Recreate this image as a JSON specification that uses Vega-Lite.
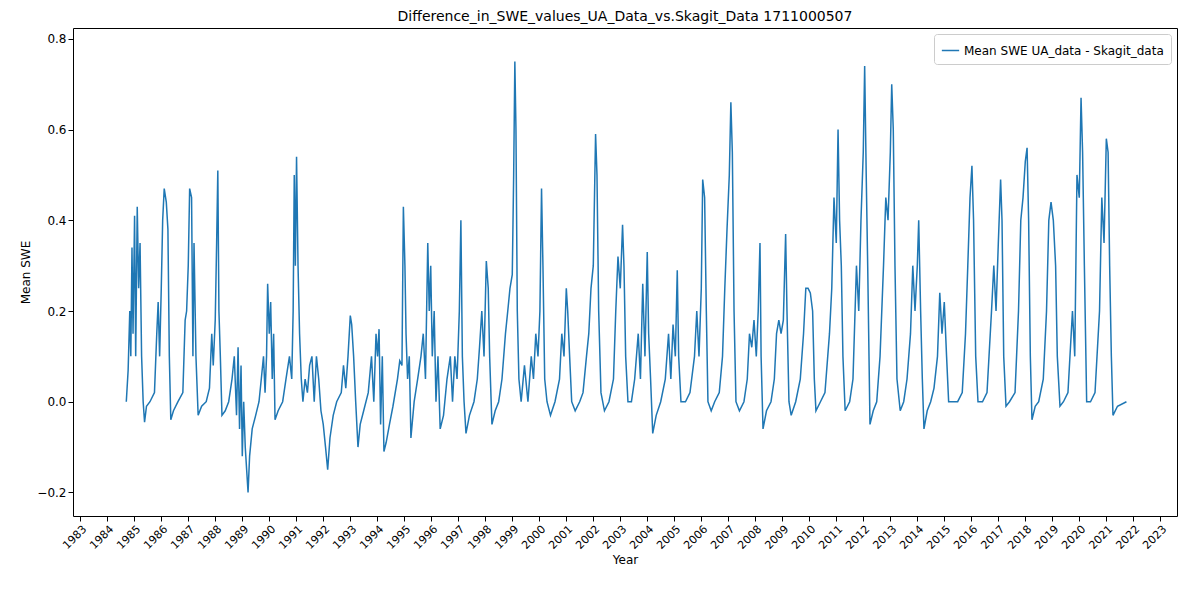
{
  "$schema": "https://vega.github.io/schema/vega-lite/v6.json",
  "width": 1104,
  "height": 488,
  "autosize": "none",
  "padding": {"left": 73, "top": 28, "right": 10, "bottom": 73},
  "background": "white",
  "title": {"text": "Difference_in_SWE_values_UA_Data_vs.Skagit_Data 1711000507", "font": "DejaVu Sans", "fontSize": 14, "fontWeight": "normal", "offset": 4, "color": "black"},
  "data": {"values": [
    {"date":"1984-09-15","v":0.0},{"date":"1984-10-10","v":0.07},{"date":"1984-11-01","v":0.2},{"date":"1984-11-15","v":0.1},{"date":"1984-12-01","v":0.34},{"date":"1984-12-15","v":0.15},{"date":"1985-01-05","v":0.41},{"date":"1985-01-20","v":0.1},{"date":"1985-02-10","v":0.43},{"date":"1985-03-01","v":0.25},{"date":"1985-03-20","v":0.35},{"date":"1985-04-10","v":0.1},{"date":"1985-05-01","v":0.0},{"date":"1985-05-20","v":-0.045},{"date":"1985-06-15","v":-0.01},{"date":"1985-08-01","v":0.0},
    {"date":"1985-10-01","v":0.02},{"date":"1985-11-01","v":0.15},{"date":"1985-11-20","v":0.22},{"date":"1985-12-10","v":0.1},{"date":"1986-01-01","v":0.25},{"date":"1986-01-20","v":0.4},{"date":"1986-02-10","v":0.47},{"date":"1986-03-10","v":0.44},{"date":"1986-04-01","v":0.38},{"date":"1986-04-20","v":0.1},{"date":"1986-05-10","v":-0.04},{"date":"1986-06-15","v":-0.02},{"date":"1986-08-15","v":0.0},
    {"date":"1986-10-20","v":0.02},{"date":"1986-11-20","v":0.18},{"date":"1986-12-10","v":0.2},{"date":"1987-01-01","v":0.3},{"date":"1987-01-20","v":0.47},{"date":"1987-02-15","v":0.45},{"date":"1987-03-05","v":0.1},{"date":"1987-03-20","v":0.35},{"date":"1987-04-15","v":0.1},{"date":"1987-05-15","v":-0.03},{"date":"1987-07-01","v":-0.01},{"date":"1987-09-01","v":0.0},
    {"date":"1987-10-15","v":0.03},{"date":"1987-11-15","v":0.15},{"date":"1987-12-05","v":0.08},{"date":"1988-01-01","v":0.18},{"date":"1988-01-20","v":0.35},{"date":"1988-02-05","v":0.51},{"date":"1988-02-20","v":0.2},{"date":"1988-03-10","v":0.1},{"date":"1988-04-01","v":-0.03},{"date":"1988-05-15","v":-0.02},{"date":"1988-07-01","v":0.0},{"date":"1988-08-15","v":0.05},
    {"date":"1988-09-15","v":0.1},{"date":"1988-10-15","v":-0.03},{"date":"1988-11-05","v":0.12},{"date":"1988-11-25","v":-0.06},{"date":"1988-12-15","v":0.08},{"date":"1989-01-01","v":-0.12},{"date":"1989-01-20","v":0.0},{"date":"1989-02-10","v":-0.1},{"date":"1989-03-01","v":-0.15},{"date":"1989-03-20","v":-0.2},{"date":"1989-04-10","v":-0.12},{"date":"1989-05-15","v":-0.06},{"date":"1989-07-01","v":-0.03},{"date":"1989-08-15","v":0.0},
    {"date":"1989-09-15","v":0.05},{"date":"1989-10-15","v":0.1},{"date":"1989-11-05","v":0.02},{"date":"1989-11-25","v":0.1},{"date":"1989-12-10","v":0.26},{"date":"1990-01-01","v":0.15},{"date":"1990-01-20","v":0.22},{"date":"1990-02-10","v":0.05},{"date":"1990-03-01","v":0.15},{"date":"1990-03-20","v":-0.04},{"date":"1990-05-01","v":-0.02},{"date":"1990-07-01","v":0.0},
    {"date":"1990-08-15","v":0.05},{"date":"1990-10-01","v":0.1},{"date":"1990-11-01","v":0.05},{"date":"1990-11-20","v":0.2},{"date":"1990-12-05","v":0.5},{"date":"1990-12-20","v":0.3},{"date":"1991-01-05","v":0.54},{"date":"1991-01-25","v":0.3},{"date":"1991-02-15","v":0.15},{"date":"1991-03-10","v":0.05},{"date":"1991-04-01","v":0.0},{"date":"1991-05-01","v":0.05},{"date":"1991-06-01","v":0.02},
    {"date":"1991-07-01","v":0.08},{"date":"1991-08-01","v":0.1},{"date":"1991-09-01","v":0.0},{"date":"1991-10-01","v":0.1},{"date":"1991-11-01","v":0.05},{"date":"1991-12-01","v":-0.02},{"date":"1992-01-01","v":-0.05},{"date":"1992-02-01","v":-0.1},{"date":"1992-03-01","v":-0.15},{"date":"1992-04-01","v":-0.08},{"date":"1992-05-15","v":-0.03},{"date":"1992-07-01","v":0.0},
    {"date":"1992-09-01","v":0.02},{"date":"1992-10-01","v":0.08},{"date":"1992-11-01","v":0.03},{"date":"1992-12-01","v":0.1},{"date":"1993-01-01","v":0.19},{"date":"1993-01-20","v":0.17},{"date":"1993-02-15","v":0.1},{"date":"1993-03-15","v":0.0},{"date":"1993-04-15","v":-0.1},{"date":"1993-05-15","v":-0.05},{"date":"1993-07-01","v":-0.02},
    {"date":"1993-09-01","v":0.02},{"date":"1993-10-15","v":0.1},{"date":"1993-11-15","v":0.0},{"date":"1993-12-15","v":0.15},{"date":"1994-01-05","v":0.1},{"date":"1994-01-25","v":0.16},{"date":"1994-02-15","v":-0.05},{"date":"1994-03-10","v":0.1},{"date":"1994-04-01","v":-0.11},{"date":"1994-05-01","v":-0.09},{"date":"1994-06-15","v":-0.05},{"date":"1994-08-01","v":-0.01},
    {"date":"1994-10-01","v":0.05},{"date":"1994-11-01","v":0.09},{"date":"1994-12-01","v":0.08},{"date":"1994-12-20","v":0.43},{"date":"1995-01-10","v":0.3},{"date":"1995-01-25","v":0.15},{"date":"1995-02-15","v":0.05},{"date":"1995-03-10","v":0.1},{"date":"1995-04-01","v":-0.08},{"date":"1995-05-15","v":0.0},{"date":"1995-07-01","v":0.05},
    {"date":"1995-08-15","v":0.1},{"date":"1995-09-15","v":0.15},{"date":"1995-10-15","v":0.05},{"date":"1995-11-15","v":0.35},{"date":"1995-12-05","v":0.2},{"date":"1995-12-25","v":0.3},{"date":"1996-01-15","v":0.1},{"date":"1996-02-10","v":0.2},{"date":"1996-03-05","v":0.0},{"date":"1996-04-01","v":0.1},{"date":"1996-05-01","v":-0.06},{"date":"1996-06-15","v":-0.03},{"date":"1996-08-01","v":0.05},
    {"date":"1996-09-15","v":0.1},{"date":"1996-10-15","v":0.0},{"date":"1996-11-15","v":0.1},{"date":"1996-12-15","v":0.05},{"date":"1997-01-15","v":0.2},{"date":"1997-02-05","v":0.4},{"date":"1997-02-25","v":0.1},{"date":"1997-03-20","v":0.0},{"date":"1997-04-15","v":-0.07},{"date":"1997-06-01","v":-0.03},{"date":"1997-08-01","v":0.0},
    {"date":"1997-09-15","v":0.05},{"date":"1997-10-15","v":0.12},{"date":"1997-11-15","v":0.2},{"date":"1997-12-15","v":0.1},{"date":"1998-01-15","v":0.31},{"date":"1998-02-10","v":0.25},{"date":"1998-03-01","v":0.1},{"date":"1998-04-01","v":-0.05},{"date":"1998-05-15","v":-0.02},{"date":"1998-07-01","v":0.0},
    {"date":"1998-08-15","v":0.05},{"date":"1998-10-01","v":0.15},{"date":"1998-11-01","v":0.2},{"date":"1998-12-01","v":0.25},{"date":"1999-01-01","v":0.28},{"date":"1999-01-20","v":0.5},{"date":"1999-02-05","v":0.75},{"date":"1999-02-20","v":0.6},{"date":"1999-03-10","v":0.2},{"date":"1999-04-01","v":0.05},{"date":"1999-05-01","v":0.0},{"date":"1999-06-15","v":0.08},
    {"date":"1999-08-01","v":0.0},{"date":"1999-09-15","v":0.1},{"date":"1999-10-15","v":0.05},{"date":"1999-11-15","v":0.15},{"date":"1999-12-15","v":0.1},{"date":"2000-01-10","v":0.2},{"date":"2000-02-01","v":0.47},{"date":"2000-02-20","v":0.3},{"date":"2000-03-15","v":0.05},{"date":"2000-04-15","v":0.0},{"date":"2000-06-01","v":-0.03},{"date":"2000-08-01","v":0.0},
    {"date":"2000-10-01","v":0.05},{"date":"2000-11-01","v":0.15},{"date":"2000-12-01","v":0.1},{"date":"2001-01-01","v":0.25},{"date":"2001-01-20","v":0.2},{"date":"2001-02-15","v":0.1},{"date":"2001-03-15","v":0.0},{"date":"2001-05-01","v":-0.02},{"date":"2001-07-01","v":0.0},
    {"date":"2001-08-15","v":0.02},{"date":"2001-10-01","v":0.1},{"date":"2001-11-01","v":0.15},{"date":"2001-12-01","v":0.25},{"date":"2002-01-01","v":0.3},{"date":"2002-02-01","v":0.59},{"date":"2002-02-20","v":0.5},{"date":"2002-03-15","v":0.2},{"date":"2002-04-15","v":0.02},{"date":"2002-06-01","v":-0.02},{"date":"2002-08-01","v":0.0},
    {"date":"2002-10-01","v":0.05},{"date":"2002-11-01","v":0.2},{"date":"2002-12-01","v":0.32},{"date":"2003-01-01","v":0.25},{"date":"2003-02-01","v":0.39},{"date":"2003-02-20","v":0.3},{"date":"2003-03-15","v":0.1},{"date":"2003-04-15","v":0.0},{"date":"2003-06-01","v":0.0},
    {"date":"2003-07-15","v":0.05},{"date":"2003-09-01","v":0.15},{"date":"2003-10-01","v":0.05},{"date":"2003-11-01","v":0.26},{"date":"2003-12-01","v":0.1},{"date":"2004-01-01","v":0.33},{"date":"2004-01-20","v":0.15},{"date":"2004-02-15","v":0.05},{"date":"2004-03-15","v":-0.07},{"date":"2004-05-01","v":-0.03},{"date":"2004-07-01","v":0.0},
    {"date":"2004-09-01","v":0.05},{"date":"2004-10-15","v":0.15},{"date":"2004-11-15","v":0.05},{"date":"2004-12-15","v":0.17},{"date":"2005-01-15","v":0.1},{"date":"2005-02-10","v":0.29},{"date":"2005-03-01","v":0.1},{"date":"2005-04-01","v":0.0},{"date":"2005-06-01","v":0.0},
    {"date":"2005-08-01","v":0.02},{"date":"2005-10-01","v":0.1},{"date":"2005-11-01","v":0.2},{"date":"2005-12-01","v":0.1},{"date":"2006-01-01","v":0.25},{"date":"2006-01-20","v":0.49},{"date":"2006-02-15","v":0.45},{"date":"2006-03-10","v":0.2},{"date":"2006-04-01","v":0.0},{"date":"2006-05-15","v":-0.02},{"date":"2006-07-01","v":0.0},
    {"date":"2006-09-01","v":0.02},{"date":"2006-10-15","v":0.1},{"date":"2006-11-15","v":0.25},{"date":"2006-12-15","v":0.38},{"date":"2007-01-15","v":0.5},{"date":"2007-02-05","v":0.66},{"date":"2007-02-25","v":0.55},{"date":"2007-03-20","v":0.2},{"date":"2007-04-15","v":0.0},{"date":"2007-06-01","v":-0.02},{"date":"2007-08-01","v":0.0},
    {"date":"2007-09-15","v":0.05},{"date":"2007-10-15","v":0.15},{"date":"2007-11-15","v":0.12},{"date":"2007-12-15","v":0.18},{"date":"2008-01-15","v":0.1},{"date":"2008-02-10","v":0.2},{"date":"2008-03-05","v":0.35},{"date":"2008-03-20","v":0.1},{"date":"2008-04-15","v":-0.06},{"date":"2008-06-01","v":-0.02},{"date":"2008-08-01","v":0.0},
    {"date":"2008-09-15","v":0.05},{"date":"2008-10-15","v":0.15},{"date":"2008-11-15","v":0.18},{"date":"2008-12-15","v":0.15},{"date":"2009-01-15","v":0.18},{"date":"2009-02-15","v":0.37},{"date":"2009-03-05","v":0.2},{"date":"2009-04-01","v":0.0},{"date":"2009-05-01","v":-0.03},{"date":"2009-07-01","v":0.0},
    {"date":"2009-09-01","v":0.05},{"date":"2009-10-15","v":0.15},{"date":"2009-11-15","v":0.25},{"date":"2009-12-15","v":0.25},{"date":"2010-01-15","v":0.24},{"date":"2010-02-15","v":0.2},{"date":"2010-03-10","v":0.05},{"date":"2010-04-01","v":-0.02},{"date":"2010-06-01","v":0.0},
    {"date":"2010-08-01","v":0.02},{"date":"2010-10-01","v":0.15},{"date":"2010-11-01","v":0.25},{"date":"2010-12-01","v":0.45},{"date":"2011-01-01","v":0.35},{"date":"2011-01-25","v":0.6},{"date":"2011-02-15","v":0.4},{"date":"2011-03-10","v":0.3},{"date":"2011-04-01","v":0.1},{"date":"2011-05-01","v":-0.02},{"date":"2011-07-01","v":0.0},
    {"date":"2011-08-15","v":0.05},{"date":"2011-10-01","v":0.3},{"date":"2011-11-01","v":0.2},{"date":"2011-12-01","v":0.4},{"date":"2012-01-01","v":0.55},{"date":"2012-01-20","v":0.74},{"date":"2012-02-10","v":0.5},{"date":"2012-03-01","v":0.3},{"date":"2012-04-01","v":-0.05},{"date":"2012-05-15","v":-0.02},{"date":"2012-07-01","v":0.0},
    {"date":"2012-08-15","v":0.1},{"date":"2012-10-01","v":0.3},{"date":"2012-11-01","v":0.45},{"date":"2012-12-01","v":0.4},{"date":"2013-01-01","v":0.55},{"date":"2013-01-20","v":0.7},{"date":"2013-02-10","v":0.6},{"date":"2013-03-05","v":0.3},{"date":"2013-04-01","v":0.05},{"date":"2013-05-15","v":-0.02},{"date":"2013-07-01","v":0.0},
    {"date":"2013-08-15","v":0.05},{"date":"2013-10-01","v":0.15},{"date":"2013-11-01","v":0.3},{"date":"2013-12-01","v":0.2},{"date":"2014-01-01","v":0.3},{"date":"2014-01-20","v":0.4},{"date":"2014-02-15","v":0.2},{"date":"2014-03-10","v":0.05},{"date":"2014-04-01","v":-0.06},{"date":"2014-05-15","v":-0.02},{"date":"2014-07-01","v":0.0},
    {"date":"2014-08-15","v":0.03},{"date":"2014-10-01","v":0.1},{"date":"2014-11-01","v":0.24},{"date":"2014-12-01","v":0.15},{"date":"2015-01-01","v":0.22},{"date":"2015-02-01","v":0.1},{"date":"2015-03-01","v":0.0},{"date":"2015-05-01","v":0.0},
    {"date":"2015-07-01","v":0.0},{"date":"2015-09-01","v":0.02},{"date":"2015-10-15","v":0.15},{"date":"2015-11-15","v":0.3},{"date":"2015-12-15","v":0.45},{"date":"2016-01-10","v":0.52},{"date":"2016-02-01","v":0.4},{"date":"2016-03-01","v":0.1},{"date":"2016-04-01","v":0.0},{"date":"2016-06-01","v":0.0},
    {"date":"2016-08-01","v":0.02},{"date":"2016-10-01","v":0.2},{"date":"2016-11-01","v":0.3},{"date":"2016-12-01","v":0.2},{"date":"2017-01-01","v":0.35},{"date":"2017-02-01","v":0.49},{"date":"2017-02-20","v":0.4},{"date":"2017-03-15","v":0.1},{"date":"2017-04-15","v":-0.01},{"date":"2017-06-01","v":0.0},
    {"date":"2017-08-15","v":0.02},{"date":"2017-10-01","v":0.2},{"date":"2017-11-01","v":0.4},{"date":"2017-12-01","v":0.45},{"date":"2018-01-01","v":0.53},{"date":"2018-01-25","v":0.56},{"date":"2018-02-15","v":0.4},{"date":"2018-03-10","v":0.1},{"date":"2018-04-01","v":-0.04},{"date":"2018-05-15","v":-0.01},{"date":"2018-07-01","v":0.0},
    {"date":"2018-09-01","v":0.05},{"date":"2018-10-15","v":0.2},{"date":"2018-11-15","v":0.4},{"date":"2018-12-15","v":0.44},{"date":"2019-01-15","v":0.4},{"date":"2019-02-15","v":0.3},{"date":"2019-03-10","v":0.1},{"date":"2019-04-15","v":-0.01},{"date":"2019-06-01","v":0.0},
    {"date":"2019-08-01","v":0.02},{"date":"2019-10-01","v":0.2},{"date":"2019-11-01","v":0.1},{"date":"2019-12-01","v":0.5},{"date":"2020-01-01","v":0.45},{"date":"2020-01-25","v":0.67},{"date":"2020-02-15","v":0.55},{"date":"2020-03-10","v":0.3},{"date":"2020-04-10","v":0.0},{"date":"2020-06-01","v":0.0},
    {"date":"2020-08-01","v":0.02},{"date":"2020-10-01","v":0.2},{"date":"2020-11-01","v":0.45},{"date":"2020-12-01","v":0.35},{"date":"2021-01-01","v":0.58},{"date":"2021-01-25","v":0.55},{"date":"2021-02-15","v":0.3},{"date":"2021-03-10","v":0.1},{"date":"2021-04-01","v":-0.03},{"date":"2021-06-01","v":-0.01},{"date":"2021-09-30","v":0.0}
  ]},
  "mark": {"type": "line", "strokeWidth": 1.5, "color": "#1f77b4"},
  "encoding": {
    "x": {"field": "date", "type": "temporal", "title": "Year",
      "scale": {"domain": ["1982-09-25", "2023-08-15"]},
      "axis": {"format": "%Y", "tickCount": {"interval": "year", "step": 1}, "labelAngle": -45, "labelAlign": "right", "labelBaseline": "top", "grid": false, "domain": false, "labelFont": "DejaVu Sans", "titleFont": "DejaVu Sans", "labelFontSize": 11, "titleFontSize": 12, "titleFontWeight": "normal", "labelColor": "black", "titleColor": "black", "tickColor": "black", "labelOverlap": false}},
    "y": {"field": "v", "type": "quantitative", "title": "Mean SWE",
      "scale": {"domain": [-0.252, 0.824], "nice": false, "zero": false},
      "axis": {"values": [-0.2, 0, 0.2, 0.4, 0.6, 0.8], "format": ".1f", "grid": false, "domain": false, "labelFont": "DejaVu Sans", "titleFont": "DejaVu Sans", "labelFontSize": 12, "titleFontSize": 12, "titleFontWeight": "normal", "labelColor": "black", "titleColor": "black", "tickColor": "black"}},
    "color": {"datum": "Mean SWE UA_data - Skagit_data", "type": "nominal",
      "scale": {"range": ["#1f77b4"]},
      "legend": {"title": null, "orient": "top-right", "symbolType": "stroke", "symbolStrokeWidth": 1.5, "symbolSize": 300, "labelFont": "DejaVu Sans", "labelFontSize": 12, "labelLimit": 0, "labelColor": "black", "strokeColor": "#cccccc", "fillColor": "white", "padding": 7, "cornerRadius": 3, "offset": 6}}
  },
  "config": {"view": {"stroke": "black", "strokeWidth": 1}}
}
